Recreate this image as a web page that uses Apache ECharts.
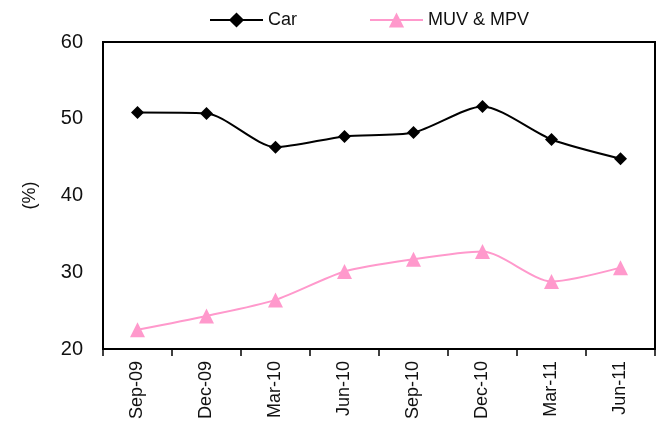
<!DOCTYPE html>
<html>
<head>
<meta charset="utf-8">
<script src="https://cdn.jsdelivr.net/npm/echarts@6/dist/echarts.min.js"></script>
<style>
  html, body { margin: 0; padding: 0; background: #fff; }
  #chart { width: 658px; height: 424px; }
</style>
</head>
<body>
<div id="chart"></div>
<script>
// Quarterly share (%) by vehicle segment
const categories = ['Sep-09', 'Dec-09', 'Mar-10', 'Jun-10', 'Sep-10', 'Dec-10', 'Mar-11', 'Jun-11'];
const carShare = [50.8, 50.7, 46.3, 47.7, 48.2, 51.6, 47.3, 44.8];
const muvMpvShare = [22.5, 24.3, 26.4, 30.1, 31.7, 32.7, 28.8, 30.6];
const yTicks = { min: 20, max: 60, step: 10 };

const font = 'Liberation Sans, Arial, sans-serif';
const narrow = '"Liberation Sans Narrow", "Arial Narrow", Liberation Sans, sans-serif';
const chart = echarts.init(document.getElementById('chart'));

chart.setOption({
  animation: false,
  backgroundColor: '#fff',
  textStyle: { fontFamily: font },
  legend: {
    top: 6,
    left: 204,
    itemWidth: 53,
    itemHeight: 19,
    itemGap: 72,
    textStyle: { fontFamily: font, fontSize: 18, color: '#111' },
    data: ['Car', 'MUV & MPV']
  },
  grid: {
    left: 103, right: 3, top: 42, bottom: 75,
    show: true, borderColor: '#000', borderWidth: 2, backgroundColor: '#fff'
  },
  xAxis: {
    type: 'category',
    data: categories,
    boundaryGap: true,
    axisLine: { lineStyle: { color: '#000', width: 2 } },
    axisTick: { show: true, alignWithLabel: false, length: 7, lineStyle: { color: '#000', width: 1.5 } },
    axisLabel: { rotate: 90, fontSize: 18, color: '#111', fontFamily: narrow, margin: 12 },
    splitLine: { show: false }
  },
  yAxis: {
    type: 'value',
    min: yTicks.min, max: yTicks.max, interval: yTicks.step,
    name: '(%)',
    nameLocation: 'middle',
    nameGap: 64,
    nameRotate: 90,
    nameTextStyle: { fontSize: 18, color: '#111', fontFamily: font },
    axisLine: { show: true, lineStyle: { color: '#000', width: 2 } },
    axisTick: { show: false },
    axisLabel: { fontSize: 20, color: '#111', fontFamily: narrow, margin: 20 },
    splitLine: { show: false }
  },
  series: [
    {
      name: 'Car',
      type: 'line',
      data: carShare,
      smooth: 0.25,
      symbol: 'diamond',
      symbolSize: 13,
      itemStyle: { color: '#000' },
      lineStyle: { color: '#000', width: 2 }
    },
    {
      name: 'MUV & MPV',
      type: 'line',
      data: muvMpvShare,
      smooth: 0.25,
      symbol: 'triangle',
      symbolSize: 15,
      itemStyle: { color: '#ff99cc' },
      lineStyle: { color: '#ff99cc', width: 2 }
    }
  ]
});
</script>
</body>
</html>
